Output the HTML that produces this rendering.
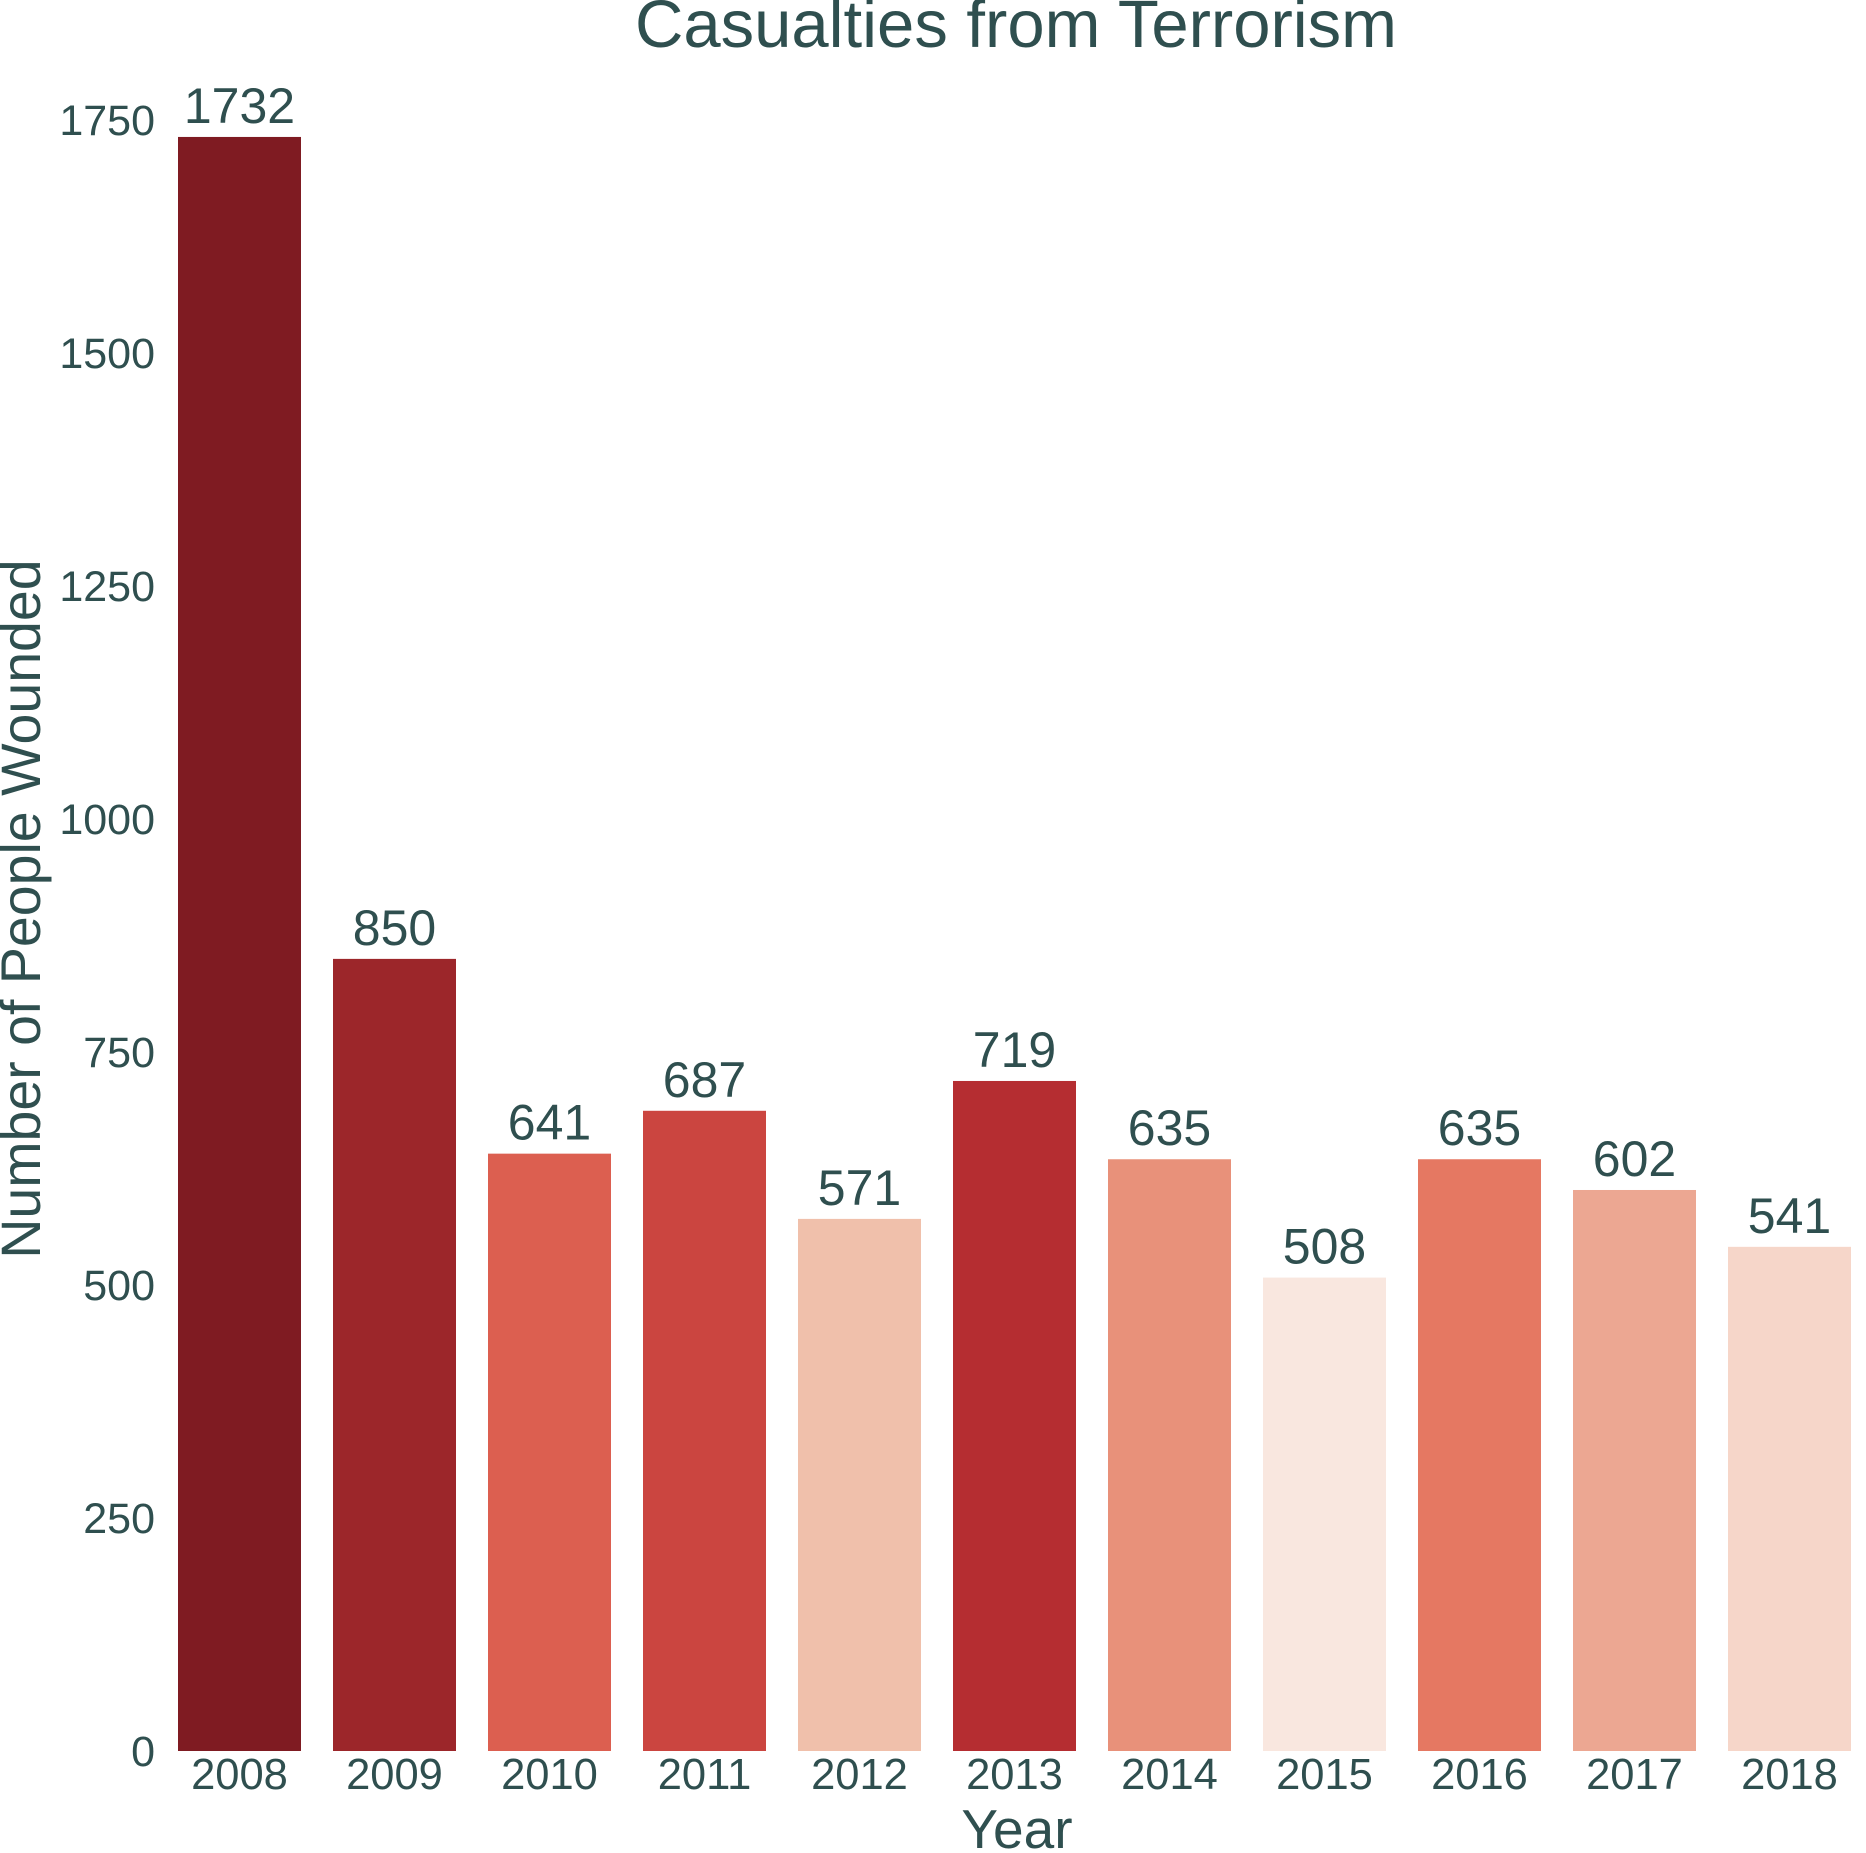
<!DOCTYPE html>
<html><head><meta charset="utf-8"><style>
html,body{margin:0;padding:0;background:#fff;}
svg{display:block;font-family:"Liberation Sans",sans-serif;}
</style></head><body>
<svg id="chart" width="1866" height="1853" viewBox="0 0 1866 1853">
<text x="1016" y="47" text-anchor="middle" font-size="67" fill="#2f4f4f">Casualties from Terrorism</text>
<text x="1017" y="1848" text-anchor="middle" font-size="55" fill="#2f4f4f">Year</text>
<text transform="translate(40,909) rotate(-90)" text-anchor="middle" font-size="55.5" fill="#2f4f4f">Number of People Wounded</text>
<g id="yticks"></g>
<g id="bars"></g>
<g id="xticks"></g>
</svg>
<script>
const categories = ["2008","2009","2010","2011","2012","2013","2014","2015","2016","2017","2018"];
const values = [1732,850,641,687,571,719,635,508,635,602,541];
const barColors = ["#7f1b22","#9c262a","#dc5f50","#cb4540","#f0c0ab","#b52d31","#e8917a","#f9e7df","#e57862","#eca792","#f6d6c9"];
const yTicks = [0,250,500,750,1000,1250,1500,1750];

const NS = "http://www.w3.org/2000/svg";
const y0 = 1751, pxPerUnit = 0.9319;
const band = 155.0, x0 = 162, barW = 123;
function yScale(v){ return y0 - v * pxPerUnit; }
function xCenter(i){ return x0 + band * (i + 0.5); }
function mk(tag, attrs){ const e = document.createElementNS(NS, tag); for (const k in attrs) e.setAttribute(k, attrs[k]); return e; }

const yg = document.getElementById('yticks');
yTicks.forEach(t => {
  const tx = mk('text', {x:155, y:yScale(t)+15, 'text-anchor':'end', 'font-size':43, fill:'#2f4f4f'});
  tx.textContent = t;
  
  
  yg.appendChild(tx);
});

const bg = document.getElementById('bars');
const xg = document.getElementById('xticks');
categories.forEach((c, i) => {
  const cx = xCenter(i);
  const top = yScale(values[i]);
  const r = mk('rect', {x:cx - barW/2, y:top, width:barW, height:y0 - top, fill:barColors[i]});
  
  
  bg.appendChild(r);
  const lbl = mk('text', {x:cx, y:top - 14, 'text-anchor':'middle', 'font-size':50, fill:'#2f4f4f'});
  lbl.textContent = values[i];
  
  
  bg.appendChild(lbl);
  const xt = mk('text', {x:cx, y:1789, 'text-anchor':'middle', 'font-size':43.5, fill:'#2f4f4f'});
  xt.textContent = c;
  
  
  xg.appendChild(xt);
});
</script>
</body></html>
